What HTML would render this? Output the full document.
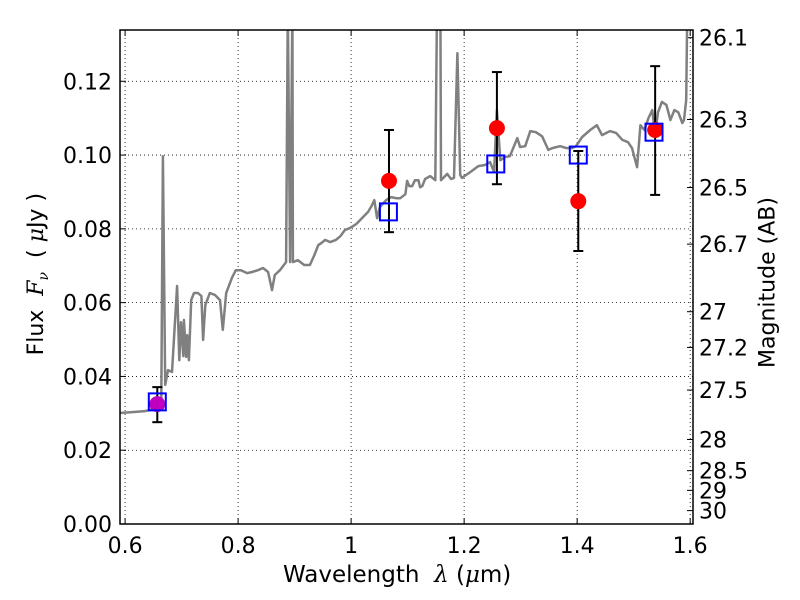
<!DOCTYPE html>
<html><head><meta charset="utf-8"><style>
body{margin:0;background:#fff}
svg{display:block;font-family:"DejaVu Sans","Liberation Sans",sans-serif}
</style></head><body>
<svg id="c" width="800" height="600" xmlns="http://www.w3.org/2000/svg"></svg>
<script>
const specWave=[0.591,0.635,0.653,0.664,0.667,0.671,0.676,0.683,0.692,0.696,0.699,0.703,0.704,0.708,0.710,0.713,0.717,0.722,0.729,0.735,0.738,0.742,0.750,0.759,0.768,0.773,0.779,0.789,0.796,0.805,0.816,0.825,0.835,0.844,0.853,0.860,0.865,0.874,0.885,0.888,0.892,0.896,0.897,0.906,0.917,0.927,0.935,0.942,0.947,0.954,0.963,0.973,0.981,0.989,0.998,1.009,1.019,1.030,1.037,1.041,1.046,1.051,1.062,1.071,1.080,1.087,1.096,1.099,1.103,1.108,1.113,1.119,1.122,1.126,1.131,1.140,1.149,1.152,1.158,1.159,1.170,1.177,1.182,1.188,1.193,1.196,1.211,1.225,1.237,1.246,1.253,1.258,1.264,1.273,1.281,1.294,1.299,1.308,1.317,1.327,1.338,1.349,1.356,1.370,1.381,1.391,1.398,1.409,1.423,1.435,1.444,1.458,1.469,1.480,1.490,1.497,1.506,1.512,1.519,1.526,1.533,1.538,1.543,1.550,1.558,1.565,1.572,1.579,1.586,1.589,1.593,1.595,1.605];
const specFlux=[0.0301,0.0306,0.0312,0.0336,0.0997,0.0377,0.0417,0.0412,0.0645,0.0444,0.0547,0.0455,0.0553,0.0453,0.0512,0.0444,0.0607,0.0626,0.0626,0.0618,0.0499,0.0593,0.0626,0.0621,0.0607,0.0526,0.0626,0.0667,0.0688,0.0688,0.0680,0.0683,0.0688,0.0694,0.0683,0.0634,0.0675,0.0688,0.0710,0.140,0.0710,0.140,0.0710,0.0715,0.0702,0.0702,0.0729,0.0756,0.0761,0.0770,0.0764,0.0770,0.0780,0.0797,0.0802,0.0813,0.0829,0.0846,0.0864,0.0878,0.0829,0.0859,0.0878,0.0886,0.0883,0.0883,0.0894,0.0930,0.0916,0.0916,0.0932,0.0932,0.0913,0.0916,0.0935,0.0943,0.0932,0.140,0.140,0.0932,0.0949,0.0935,0.0938,0.1276,0.0946,0.0938,0.0954,0.0970,0.0973,0.0981,0.0954,0.1122,0.0986,0.0995,0.0997,0.1046,0.1022,0.1024,0.1065,0.1062,0.1051,0.1014,0.1019,0.1024,0.1019,0.1019,0.1024,0.1049,0.1068,0.1081,0.1054,0.1065,0.1060,0.1041,0.1035,0.1019,0.0967,0.1081,0.1068,0.1100,0.1122,0.1054,0.1116,0.1144,0.1136,0.1095,0.1122,0.1116,0.1087,0.1095,0.1149,0.140,0.140];
const obsWave=[1.067,1.258,1.402,1.538];
const obsFlux=[0.0930,0.1073,0.0875,0.1068];
const obsHi=[0.1068,0.1225,0.1011,0.1241];
const obsLo=[0.0791,0.0921,0.0740,0.0892];
const magWave=[0.657];
const magFlux=[0.0325];
const magHi=[0.0371];
const magLo=[0.0276];
const modelWave=[0.657,1.066,1.256,1.402,1.536];
const modelFlux=[0.0331,0.0846,0.0976,0.1000,0.1062];
const xTicks=[0.6,0.8,1.0,1.2,1.4,1.6];
const xTickLabels=["0.6","0.8","1","1.2","1.4","1.6"];
const yTicks=[0,0.02,0.04,0.06,0.08,0.10,0.12];
const yTickLabels=["0.00","0.02","0.04","0.06","0.08","0.10","0.12"];
const magTicks=[26.1,26.3,26.5,26.7,27,27.2,27.5,28,28.5,29,30];

const L=120,R=693,T=30,B=524,X0=0.591,X1=1.605,Y0=0,Y1=0.1339;
const sx=v=>L+(v-X0)/(X1-X0)*(R-L);
const sy=v=>B-(v-Y0)/(Y1-Y0)*(B-T);
const NS="http://www.w3.org/2000/svg";
const svg=document.getElementById('c');
function mk(t,a,p){const e=document.createElementNS(NS,t);for(const k in a)e.setAttribute(k,a[k]);(p||svg).appendChild(e);return e;}
const defs=mk('defs',{});const cp=mk('clipPath',{id:'cp'},defs);mk('rect',{x:L,y:T,width:R-L,height:B-T},cp);

xTicks.forEach((v,i)=>{const x=sx(v);if(x<L||x>R)return;
 const g=mk('line',{x1:x,x2:x,y1:T,y2:B,stroke:'#000','stroke-width':0.8,'stroke-dasharray':'1,3'});
 
 
 mk('line',{x1:x,x2:x,y1:B,y2:B-6,stroke:'#000'});mk('line',{x1:x,x2:x,y1:T,y2:T+6,stroke:'#000'});
 const t=mk('text',{x:x,y:B+29,'font-size':22,'text-anchor':'middle'});t.textContent=xTickLabels[i];
 
 
});
yTicks.forEach((v,i)=>{const y=sy(v);
 const g=mk('line',{x1:L,x2:R,y1:y,y2:y,stroke:'#000','stroke-width':0.8,'stroke-dasharray':'1,3'});
 
 
 mk('line',{x1:L,x2:L+6,y1:y,y2:y,stroke:'#000'});
 const t=mk('text',{x:L-8,y:y+8,'font-size':22,'text-anchor':'end'});t.textContent=yTickLabels[i];
 
 
});
magTicks.forEach(m=>{const f=Math.pow(10,(23.9-m)/2.5);const y=sy(f);
 mk('line',{x1:R,x2:R-6,y1:y,y2:y,stroke:'#000'});
 const t=mk('text',{x:R+6,y:y+8,'font-size':22});t.textContent=String(m);
 
 
});
const pts=specWave.map((w,i)=>sx(w).toFixed(1)+','+sy(specFlux[i]).toFixed(1)).join(' ');
const sp=mk('polyline',{points:pts,fill:'none',stroke:'#808080','stroke-width':2.5,'clip-path':'url(#cp)','stroke-linejoin':'round'});


function err(w,lo,hi){const x=sx(w);mk('line',{x1:x,x2:x,y1:sy(lo),y2:sy(hi),stroke:'#000','stroke-width':2});
 [lo,hi].forEach(v=>mk('line',{x1:x-5,x2:x+5,y1:sy(v),y2:sy(v),stroke:'#000','stroke-width':2}));}
obsWave.forEach((w,i)=>{err(w,obsLo[i],obsHi[i]);
 const c=mk('circle',{cx:sx(w),cy:sy(obsFlux[i]),r:8,fill:'#ff0000'});
 
 
});
magWave.forEach((w,i)=>{err(w,magLo[i],magHi[i]);
 const c=mk('circle',{cx:sx(w),cy:sy(magFlux[i]),r:8,fill:'#bf00bf'});
 
 
});
modelWave.forEach((w,i)=>{
 const r=mk('rect',{x:sx(w)-8.5,y:sy(modelFlux[i])-8.5,width:17,height:17,fill:'none',stroke:'#0000ff','stroke-width':2});
 
 
});
const fr=mk('rect',{x:L,y:T,width:R-L,height:B-T,fill:'none',stroke:'#000','stroke-width':1.5});


</script>
<div style="position:absolute;left:0;top:0;width:800px;height:600px;pointer-events:none;font-family:'DejaVu Sans','Liberation Sans',sans-serif">
<div style="position:absolute;left:283px;top:562px;font-size:23px;white-space:nowrap">Wavelength&nbsp; <i style="font-family:'DejaVu Serif',serif">λ</i> (<i style="font-family:'DejaVu Serif',serif">μ</i>m)</div>
<div style="position:absolute;left:-72px;top:260px;width:220px;text-align:center;transform:rotate(-90deg);font-size:22px;white-space:nowrap">Flux&nbsp; <i style="font-family:'DejaVu Serif',serif">F<sub style="font-size:14px">ν</sub></i>&nbsp; ( <i style="font-family:'DejaVu Serif',serif">μ</i>Jy )</div>
<div style="position:absolute;left:668px;top:270px;width:200px;text-align:center;transform:rotate(-90deg);font-size:22px;white-space:nowrap">Magnitude (AB)</div>
</div>
</body></html>
